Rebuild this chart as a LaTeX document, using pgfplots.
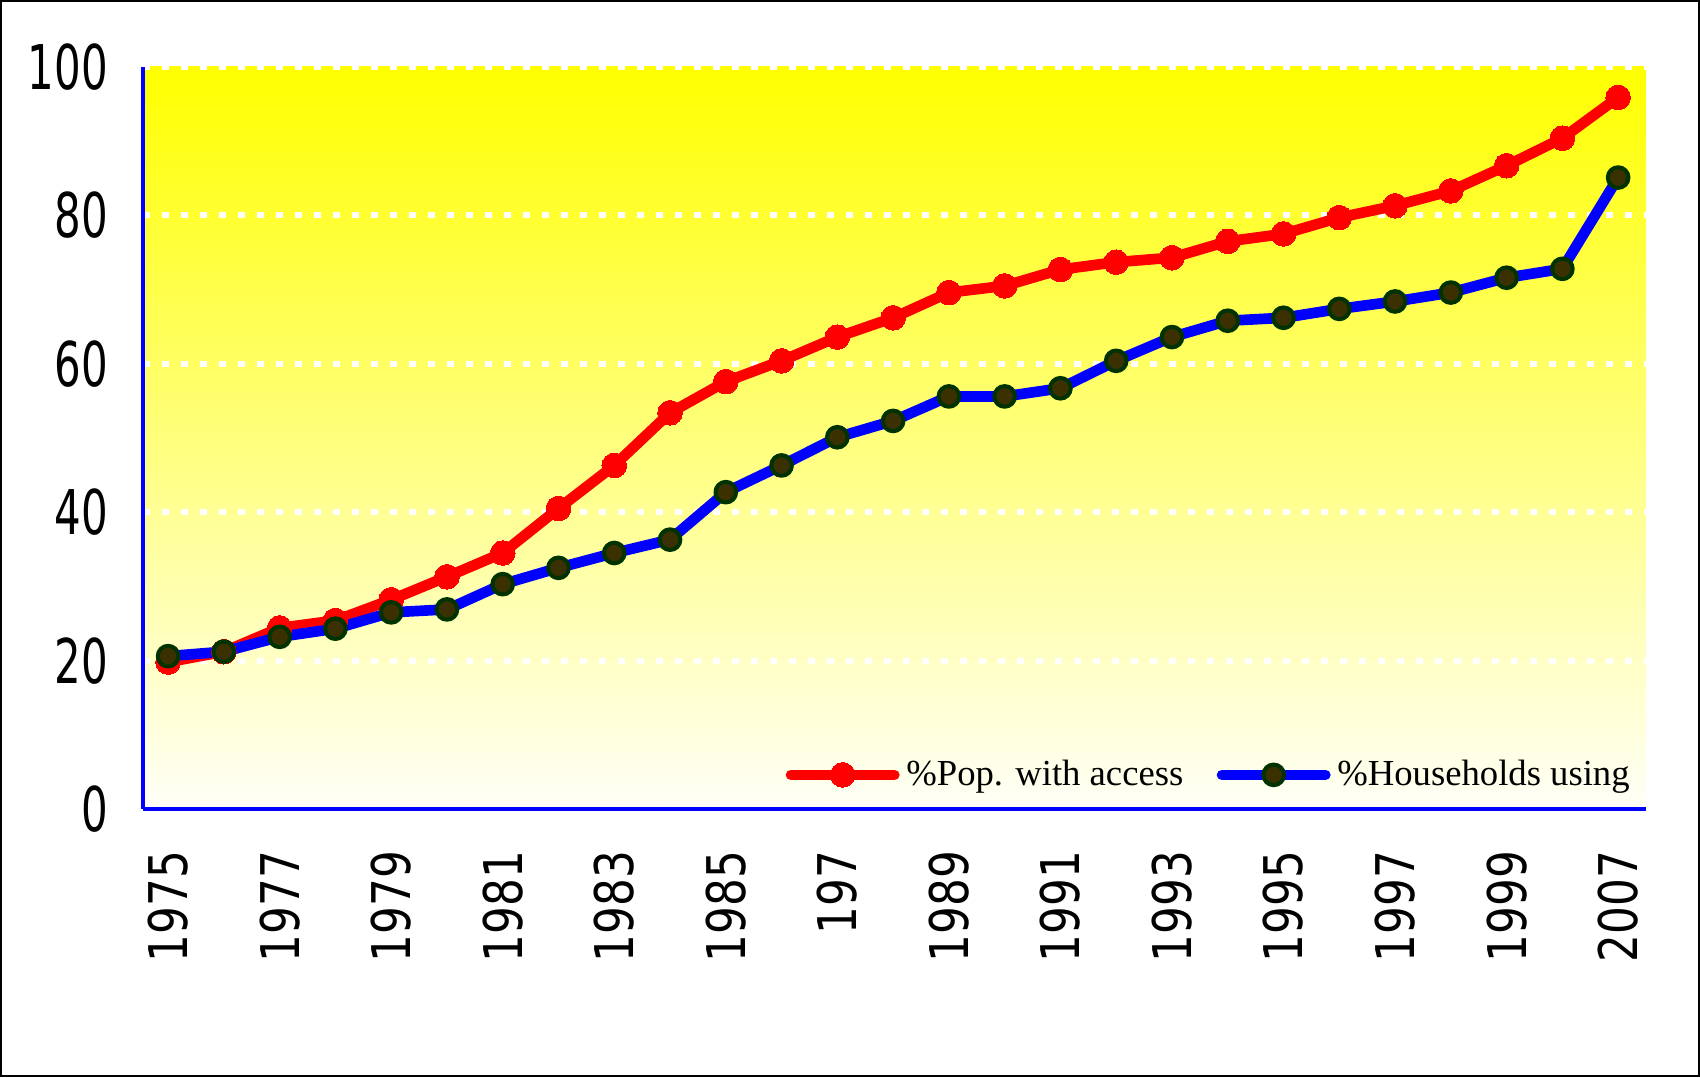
\documentclass[border=0pt]{standalone}
\usepackage{fontspec}
\usepackage{pgfplots}
\pgfplotsset{compat=1.18}
\setmainfont{Liberation Serif}
\newfontfamily\xticksans[FakeStretch=0.82]{DejaVu Sans}
\newfontfamily\yticksans[FakeStretch=0.68]{DejaVu Sans}
\definecolor{hhfill}{RGB}{58,48,0}
\definecolor{hhedge}{RGB}{0,51,0}

% index 0..25 = 1975..2000, 26 = 2007
\pgfplotstableread{
i  pop   hh
0  19.8  20.6
1  21.2  21.2
2  24.4  23.2
3  25.4  24.3
4  28.2  26.5
5  31.3  26.9
6  34.5  30.3
7  40.5  32.5
8  46.3  34.5
9  53.4  36.3
10 57.6  42.7
11 60.4  46.3
12 63.6  50.1
13 66.2  52.3
14 69.6  55.6
15 70.5  55.6
16 72.7  56.7
17 73.7  60.4
18 74.3  63.6
19 76.5  65.8
20 77.5  66.2
21 79.7  67.4
22 81.3  68.4
23 83.3  69.6
24 86.7  71.6
25 90.4  72.8
26 95.9  85.1
}\access

\begin{document}
\begin{tikzpicture}
\draw[black, line width=0.6pt] (-42.6pt,-80.1pt) rectangle (466.8pt,242.4pt);
\begin{axis}[
  at={(0,0)}, anchor=south west,
  scale only axis, width=450.9pt, height=222.6pt,
  xmin=-0.45, xmax=26.5, ymin=0, ymax=100,
  axis x line=bottom, axis y line=left,
  axis line style={blue, line width=1pt, -},
  axis background/.style={shade, top color=yellow, bottom color=yellow!3!white},
  ymajorgrids,
  grid style={white, line width=1.8pt, dash pattern=on 2.2pt off 3.5pt},
  ytick={0,20,...,100},
  xtick={0,2,...,26},
  xticklabels={1975,1977,1979,1981,1983,1985,197,1989,1991,1993,1995,1997,1999,2007},
  major tick length=0pt,
  /pgf/number format/assume math mode=true,
  x tick label style={rotate=90, anchor=east, font=\xticksans\fontsize{16}{18}\selectfont},
  y tick label style={font=\yticksans\fontsize{18.5}{20}\selectfont},
  xticklabel shift=9pt, yticklabel shift=7pt,
  legend columns=2,
  legend image code/.code={\draw[mark repeat=2, mark phase=2, #1] plot coordinates {(0pt,0pt) (15.5pt,0pt) (31pt,0pt)};},
  legend style={at={(rel axis cs:0.994,0.046)}, anchor=east, draw=none, fill=none,
    font=\fontsize{11}{13}\selectfont, inner sep=0pt,
    /tikz/every even column/.append style={column sep=8pt}},
  legend cell align=left,
]
\addplot[red, line width=3.2pt, line join=round, line cap=round,
  mark=*, mark size=3.7pt, mark options={fill=red, draw=red, line width=0pt}]
  table[x=i, y=pop] {\access};
\addlegendentry{\%Pop. with access}
\addplot[blue, line width=3.2pt, line join=round, line cap=round,
  mark=*, mark size=3.1pt, mark options={fill=hhfill, draw=hhedge, line width=1.2pt}]
  table[x=i, y=hh] {\access};
\addlegendentry{\%Households using}
\end{axis}
\end{tikzpicture}
\end{document}
